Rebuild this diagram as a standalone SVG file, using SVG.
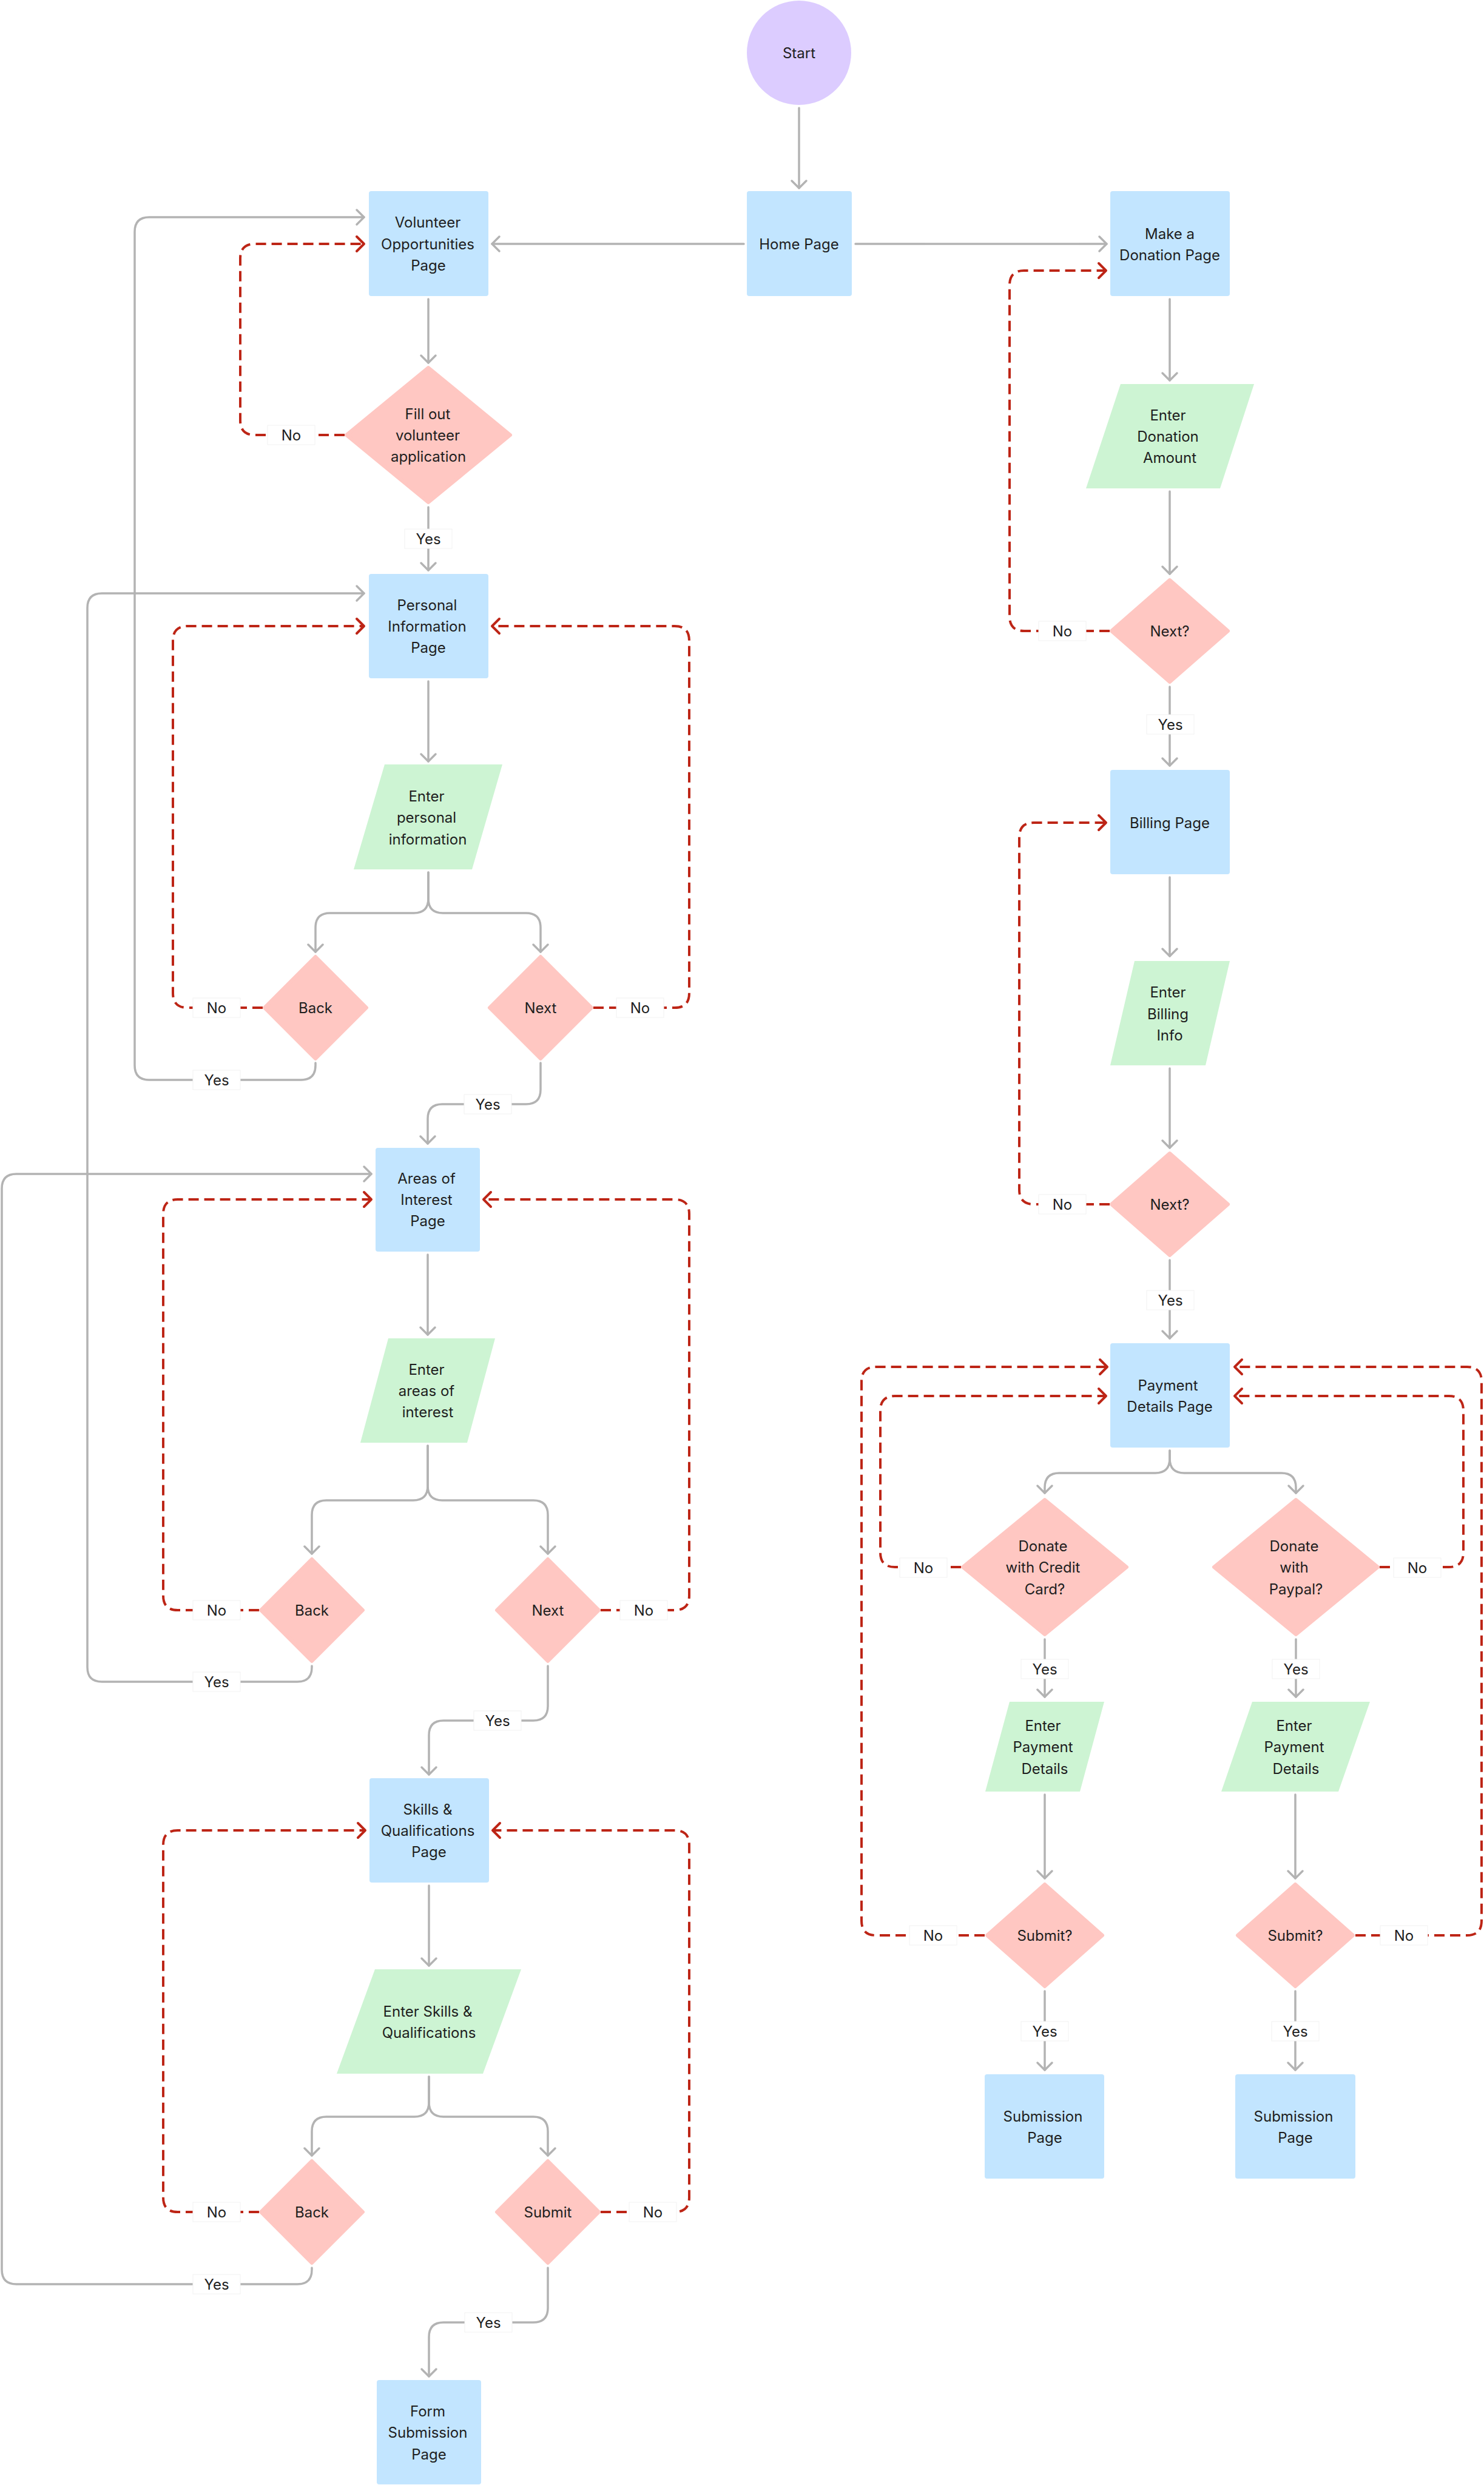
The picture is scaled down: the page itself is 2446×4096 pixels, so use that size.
<svg xmlns="http://www.w3.org/2000/svg" width="2446" height="4096" viewBox="0 0 2446 4096">
<style>
.t{font-family:Inter,"Noto Sans","Liberation Sans",sans-serif;font-size:24px;fill:#1e1e1e;text-anchor:middle}
.box{fill:#C2E5FF}
.io{fill:#CDF4D3}
.dec{fill:#FFC7C2;stroke:#FFC7C2;stroke-width:6;stroke-linejoin:round}
.st{fill:#DCCCFF}
.c{fill:none;stroke:#B3B3B3;stroke-width:3.5;stroke-linecap:round;stroke-linejoin:round;marker-end:url(#ag)}
.d{fill:none;stroke:#BD2516;stroke-width:4;stroke-dasharray:17 9;marker-end:url(#ar)}
.lb{fill:#ffffff;stroke:#f2f2f2;stroke-width:1}
</style>
<defs>
<marker id="ag" markerUnits="userSpaceOnUse" markerWidth="32" markerHeight="32" viewBox="-16 -16 32 32" refX="0" refY="0" orient="auto">
<path d="M-12,-12 L0,0 L-12,12" fill="none" stroke="#B3B3B3" stroke-width="3.5" stroke-linecap="round" stroke-linejoin="round"/>
</marker>
<marker id="ar" markerUnits="userSpaceOnUse" markerWidth="32" markerHeight="32" viewBox="-16 -16 32 32" refX="0" refY="0" orient="auto">
<path d="M-12,-12 L0,0 L-12,12" fill="none" stroke="#BD2516" stroke-width="4" stroke-linecap="round" stroke-linejoin="round"/>
</marker>
</defs>
<rect width="2446" height="4096" fill="#ffffff"/>

<g id="connectors">
<path class="c" d="M1317,178 L1317,310"/>
<path class="c" d="M1226,402 L811,402"/>
<path class="c" d="M1410,402 L1824,402"/>
<path class="c" d="M706,493 L706,598"/>
<path class="c" d="M706,836 L706,940"/>
<path class="c" d="M706,1123 L706,1255"/>
<path class="c" d="M706,1438 L706,1481 Q706,1505 682,1505 L544,1505 Q520,1505 520,1529 L520,1569"/>
<path class="c" d="M706,1438 L706,1481 Q706,1505 730,1505 L867,1505 Q891,1505 891,1529 L891,1569"/>
<path class="c" d="M520,1752 L520,1756 Q520,1780 496,1780 L246,1780 Q222,1780 222,1756 L222,382 Q222,358 246,358 L600,358"/>
<path class="c" d="M891,1752 L891,1796 Q891,1820 867,1820 L729,1820 Q705,1820 705,1844 L705,1885"/>
<path class="c" d="M705,2068 L705,2200"/>
<path class="c" d="M705,2383 L705,2449 Q705,2473 681,2473 L538,2473 Q514,2473 514,2497 L514,2561"/>
<path class="c" d="M705,2383 L705,2449 Q705,2473 729,2473 L879,2473 Q903,2473 903,2497 L903,2561"/>
<path class="c" d="M514,2746 L514,2748 Q514,2772 490,2772 L168,2772 Q144,2772 144,2748 L144,1002 Q144,978 168,978 L600,978"/>
<path class="c" d="M903,2746 L903,2812 Q903,2836 879,2836 L731,2836 Q707,2836 707,2860 L707,2925"/>
<path class="c" d="M707,3108 L707,3240"/>
<path class="c" d="M707,3423 L707,3465 Q707,3489 683,3489 L538,3489 Q514,3489 514,3513 L514,3553"/>
<path class="c" d="M707,3423 L707,3465 Q707,3489 731,3489 L879,3489 Q903,3489 903,3513 L903,3553"/>
<path class="c" d="M514,3738 L514,3741 Q514,3765 490,3765 L27,3765 Q3,3765 3,3741 L3,1959 Q3,1935 27,1935 L612,1935"/>
<path class="c" d="M903,3738 L903,3804 Q903,3828 879,3828 L731,3828 Q707,3828 707,3852 L707,3917"/>
<path class="c" d="M1928,493 L1928,627"/>
<path class="c" d="M1928,810 L1928,946"/>
<path class="c" d="M1928,1132 L1928,1262"/>
<path class="c" d="M1928,1446 L1928,1576"/>
<path class="c" d="M1928,1761 L1928,1892"/>
<path class="c" d="M1928,2077 L1928,2206"/>
<path class="c" d="M1928,2391 L1928,2404 Q1928,2428 1904,2428 L1746,2428 Q1722,2428 1722,2452 L1722,2461"/>
<path class="c" d="M1928,2391 L1928,2404 Q1928,2428 1952,2428 L2112,2428 Q2136,2428 2136,2452 L2136,2461"/>
<path class="c" d="M1722,2702 L1722,2797"/>
<path class="c" d="M2136,2702 L2136,2797"/>
<path class="c" d="M1722,2958 L1722,3096"/>
<path class="c" d="M2135,2958 L2135,3096"/>
<path class="c" d="M1722,3282 L1722,3412"/>
<path class="c" d="M2135,3282 L2135,3412"/>
<path class="d" d="M568,717 L420,717 Q396,717 396,693 L396,426 Q396,402 420,402 L600,402"/>
<path class="d" d="M433,1661 L309,1661 Q285,1661 285,1637 L285,1056 Q285,1032 309,1032 L600,1032"/>
<path class="d" d="M978,1661 L1112,1661 Q1136,1661 1136,1637 L1136,1056 Q1136,1032 1112,1032 L811,1032"/>
<path class="d" d="M427,2654 L293,2654 Q269,2654 269,2630 L269,2001 Q269,1977 293,1977 L612,1977"/>
<path class="d" d="M990,2654 L1112,2654 Q1136,2654 1136,2630 L1136,2001 Q1136,1977 1112,1977 L797,1977"/>
<path class="d" d="M427,3646 L293,3646 Q269,3646 269,3622 L269,3041 Q269,3017 293,3017 L602,3017"/>
<path class="d" d="M990,3646 L1112,3646 Q1136,3646 1136,3622 L1136,3041 Q1136,3017 1112,3017 L812,3017"/>
<path class="d" d="M1829,1040 L1688,1040 Q1664,1040 1664,1016 L1664,470 Q1664,446 1688,446 L1823,446"/>
<path class="d" d="M1829,1985 L1704,1985 Q1680,1985 1680,1961 L1680,1380 Q1680,1356 1704,1356 L1823,1356"/>
<path class="d" d="M1584,2583 L1475,2583 Q1451,2583 1451,2559 L1451,2325 Q1451,2301 1475,2301 L1823,2301"/>
<path class="d" d="M2274,2583 L2388,2583 Q2412,2583 2412,2559 L2412,2325 Q2412,2301 2388,2301 L2035,2301"/>
<path class="d" d="M1623,3190 L1444,3190 Q1420,3190 1420,3166 L1420,2277 Q1420,2253 1444,2253 L1825,2253"/>
<path class="d" d="M2234,3190 L2418,3190 Q2442,3190 2442,3166 L2442,2277 Q2442,2253 2418,2253 L2035,2253"/>
<g id="labels">
<rect class="lb" x="667" y="872" width="78" height="32"/><text class="t" x="706" y="896.5">Yes</text>
<rect class="lb" x="441" y="701" width="78" height="32"/><text class="t" x="480" y="725.5">No</text>
<rect class="lb" x="318" y="1645" width="78" height="32"/><text class="t" x="357" y="1669.5">No</text>
<rect class="lb" x="1016" y="1645" width="78" height="32"/><text class="t" x="1055" y="1669.5">No</text>
<rect class="lb" x="318" y="1764" width="78" height="32"/><text class="t" x="357" y="1788.5">Yes</text>
<rect class="lb" x="765" y="1804" width="78" height="32"/><text class="t" x="804" y="1828.5">Yes</text>
<rect class="lb" x="318" y="2638" width="78" height="32"/><text class="t" x="357" y="2662.5">No</text>
<rect class="lb" x="1022" y="2638" width="78" height="32"/><text class="t" x="1061" y="2662.5">No</text>
<rect class="lb" x="318" y="2756" width="78" height="32"/><text class="t" x="357" y="2780.5">Yes</text>
<rect class="lb" x="781" y="2820" width="78" height="32"/><text class="t" x="820" y="2844.5">Yes</text>
<rect class="lb" x="318" y="3630" width="78" height="32"/><text class="t" x="357" y="3654.5">No</text>
<rect class="lb" x="1037" y="3630" width="78" height="32"/><text class="t" x="1076" y="3654.5">No</text>
<rect class="lb" x="318" y="3749" width="78" height="32"/><text class="t" x="357" y="3773.5">Yes</text>
<rect class="lb" x="766" y="3812" width="78" height="32"/><text class="t" x="805" y="3836.5">Yes</text>
<rect class="lb" x="1712" y="1024" width="78" height="32"/><text class="t" x="1751" y="1048.5">No</text>
<rect class="lb" x="1890" y="1178" width="78" height="32"/><text class="t" x="1929" y="1202.5">Yes</text>
<rect class="lb" x="1712" y="1969" width="78" height="32"/><text class="t" x="1751" y="1993.5">No</text>
<rect class="lb" x="1890" y="2127" width="78" height="32"/><text class="t" x="1929" y="2151.5">Yes</text>
<rect class="lb" x="1483" y="2568" width="78" height="32"/><text class="t" x="1522" y="2592.5">No</text>
<rect class="lb" x="2297" y="2568" width="78" height="32"/><text class="t" x="2336" y="2592.5">No</text>
<rect class="lb" x="1683" y="2735" width="78" height="32"/><text class="t" x="1722" y="2759.5">Yes</text>
<rect class="lb" x="2097" y="2735" width="78" height="32"/><text class="t" x="2136" y="2759.5">Yes</text>
<rect class="lb" x="1499" y="3174" width="78" height="32"/><text class="t" x="1538" y="3198.5">No</text>
<rect class="lb" x="2275" y="3174" width="78" height="32"/><text class="t" x="2314" y="3198.5">No</text>
<rect class="lb" x="1683" y="3332" width="78" height="32"/><text class="t" x="1722" y="3356.5">Yes</text>
<rect class="lb" x="2096" y="3332" width="78" height="32"/><text class="t" x="2135" y="3356.5">Yes</text>
</g>
</g>

<g id="start"><ellipse class="st" cx="1317" cy="87" rx="86" ry="86"/><text class="t" x="1317" y="95.5">Start</text></g>
<g id="home"><rect class="box" x="1231" y="315" width="173" height="173" rx="4"/><text class="t" x="1317" y="410.5">Home Page</text></g>
<g id="donation"><rect class="box" x="1830" y="315" width="197" height="173" rx="4"/><text class="t"><tspan x="1928" y="393.5">Make a</tspan><tspan x="1928" y="428.5">Donation Page</tspan></text></g>
<g id="volunteer"><rect class="box" x="608" y="315" width="197" height="173" rx="4"/><text class="t"><tspan x="705" y="375">Volunteer</tspan><tspan x="705" y="410.5">Opportunities</tspan><tspan x="706" y="446">Page</tspan></text></g>
<g id="fillout"><polygon class="dec" points="706,606 841,717 706,828 571,717"/><text class="t"><tspan x="705" y="690.5">Fill out</tspan><tspan x="705" y="725.5">volunteer</tspan><tspan x="706" y="761">application</tspan></text></g>
<g id="personal"><rect class="box" x="608" y="946" width="197" height="172" rx="4"/><text class="t"><tspan x="704" y="1005.5">Personal</tspan><tspan x="704" y="1040.5">Information</tspan><tspan x="706" y="1076">Page</tspan></text></g>
<g id="enterpersonal"><polygon class="io" points="634,1260 828,1260 778,1433 583,1433"/><text class="t"><tspan x="703" y="1320.5">Enter</tspan><tspan x="703" y="1356">personal</tspan><tspan x="705" y="1391.5">information</tspan></text></g>
<g id="back1"><polygon class="dec" points="520,1577 604,1661 520,1745 436,1661"/><text class="t" x="520" y="1669.5">Back</text></g>
<g id="next1"><polygon class="dec" points="891,1577 975,1661 891,1745 807,1661"/><text class="t" x="891" y="1669.5">Next</text></g>
<g id="areas"><rect class="box" x="619" y="1892" width="172" height="171" rx="4"/><text class="t"><tspan x="703" y="1950.5">Areas of</tspan><tspan x="703" y="1985.5">Interest</tspan><tspan x="705" y="2021">Page</tspan></text></g>
<g id="enterareas"><polygon class="io" points="640,2206 816,2206 770,2378 594,2378"/><text class="t"><tspan x="703" y="2265.5">Enter</tspan><tspan x="703" y="2300.5">areas of</tspan><tspan x="705" y="2336">interest</tspan></text></g>
<g id="back2"><polygon class="dec" points="514,2570 598,2654 514,2738 430,2654"/><text class="t" x="514" y="2662.5">Back</text></g>
<g id="next2"><polygon class="dec" points="903,2570 987,2654 903,2738 819,2654"/><text class="t" x="903" y="2662.5">Next</text></g>
<g id="skills"><rect class="box" x="609" y="2931" width="197" height="172" rx="4"/><text class="t"><tspan x="705" y="2990.5">Skills &amp;</tspan><tspan x="705" y="3025.5">Qualifications</tspan><tspan x="707" y="3061">Page</tspan></text></g>
<g id="enterskills"><polygon class="io" points="618,3246 859,3246 796,3418 555,3418"/><text class="t"><tspan x="705" y="3323.5">Enter Skills &amp;</tspan><tspan x="707" y="3358.5">Qualifications</tspan></text></g>
<g id="back3"><polygon class="dec" points="514,3562 598,3646 514,3730 430,3646"/><text class="t" x="514" y="3654.5">Back</text></g>
<g id="submit"><polygon class="dec" points="903,3562 987,3646 903,3730 819,3646"/><text class="t" x="903" y="3654.5">Submit</text></g>
<g id="formsubmission"><rect class="box" x="621" y="3923" width="172" height="172" rx="4"/><text class="t"><tspan x="705" y="3982.5">Form</tspan><tspan x="705" y="4018">Submission</tspan><tspan x="707" y="4053.5">Page</tspan></text></g>

<g id="enteramount"><polygon class="io" points="1847,633 2067,633 2011,805 1790,805"/><text class="t"><tspan x="1925" y="692.5">Enter</tspan><tspan x="1925" y="727.5">Donation</tspan><tspan x="1928" y="762.5">Amount</tspan></text></g>
<g id="nextq1"><polygon class="dec" points="1928,956 2024,1040 1928,1124 1832,1040"/><text class="t" x="1928" y="1048.5">Next?</text></g>
<g id="billing"><rect class="box" x="1830" y="1269" width="197" height="172" rx="4"/><text class="t" x="1928" y="1364.5">Billing Page</text></g>
<g id="enterbilling"><polygon class="io" points="1870,1584 2027,1584 1987,1756 1830,1756"/><text class="t"><tspan x="1925" y="1643.5">Enter</tspan><tspan x="1925" y="1679.5">Billing</tspan><tspan x="1928" y="1714.5">Info</tspan></text></g>
<g id="nextq2"><polygon class="dec" points="1928,1901 2024,1985 1928,2069 1832,1985"/><text class="t" x="1928" y="1993.5">Next?</text></g>
<g id="payment"><rect class="box" x="1830" y="2214" width="197" height="172" rx="4"/><text class="t"><tspan x="1925" y="2291.5">Payment</tspan><tspan x="1928" y="2327">Details Page</tspan></text></g>
<g id="credit"><polygon class="dec" points="1722,2472 1857,2583 1722,2694 1587,2583"/><text class="t"><tspan x="1719" y="2556.5">Donate</tspan><tspan x="1719" y="2592">with Credit</tspan><tspan x="1722" y="2627.5">Card?</tspan></text></g>
<g id="paypal"><polygon class="dec" points="2136,2472 2271,2583 2136,2694 2001,2583"/><text class="t"><tspan x="2133" y="2556.5">Donate</tspan><tspan x="2133" y="2592">with</tspan><tspan x="2136" y="2627.5">Paypal?</tspan></text></g>
<g id="enterpayL"><polygon class="io" points="1664,2805 1820,2805 1780,2953 1624,2953"/><text class="t"><tspan x="1719" y="2852.5">Enter</tspan><tspan x="1719" y="2888">Payment</tspan><tspan x="1722" y="2923.5">Details</tspan></text></g>
<g id="enterpayR"><polygon class="io" points="2064,2805 2258,2805 2206,2953 2013,2953"/><text class="t"><tspan x="2133" y="2852.5">Enter</tspan><tspan x="2133" y="2888">Payment</tspan><tspan x="2136" y="2923.5">Details</tspan></text></g>
<g id="submitqL"><polygon class="dec" points="1722,3106 1817,3190 1722,3274 1627,3190"/><text class="t" x="1722" y="3198.5">Submit?</text></g>
<g id="submitqR"><polygon class="dec" points="2135,3106 2230,3190 2135,3274 2040,3190"/><text class="t" x="2135" y="3198.5">Submit?</text></g>
<g id="submissionL"><rect class="box" x="1623" y="3419" width="197" height="172" rx="4"/><text class="t"><tspan x="1719" y="3496.5">Submission</tspan><tspan x="1722" y="3532">Page</tspan></text></g>
<g id="submissionR"><rect class="box" x="2036" y="3419" width="198" height="172" rx="4"/><text class="t"><tspan x="2132" y="3496.5">Submission</tspan><tspan x="2135" y="3532">Page</tspan></text></g>
</svg>
